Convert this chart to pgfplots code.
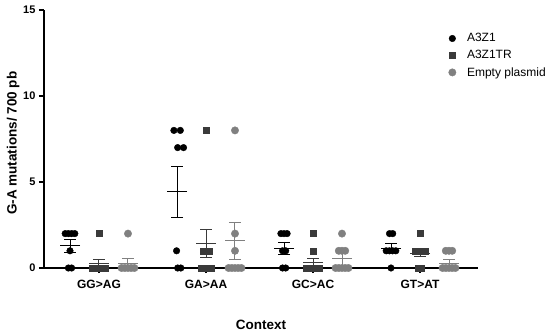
\documentclass[border=0pt]{standalone}
\usepackage{pgfplots}
\pgfplotsset{compat=1.18}
\usepackage{fontspec}
\setmainfont{Liberation Sans}
\definecolor{trgray}{HTML}{3A3A3A}
\definecolor{epgray}{HTML}{808080}
\begin{document}
\begin{tikzpicture}
\path[use as bounding box] (-44pt,-65pt) rectangle (506pt,268pt);
\begin{axis}[
  scale only axis, width=434pt, height=258pt,
  xmin=-0.514, xmax=3.542, ymin=0, ymax=15,
  axis x line=bottom, axis y line=left,
  axis line style={line width=1.3pt,-},
  xtick={0,1,2,3}, xticklabels={GG>AG,GA>AA,GC>AC,GT>AT},
  ytick={0,5,10,15},
  tick align=outside, major tick length=5pt,
  tick style={line width=1.3pt, black},
  xticklabel style={font=\bfseries\fontsize{12}{14}\selectfont, yshift=-4pt},
  yticklabel style={font=\bfseries\fontsize{11}{13}\selectfont},
  /pgf/number format/assume math mode=true,
  xlabel={Context}, ylabel={G-A mutations/ 700 pb},
  xlabel style={font=\bfseries\fontsize{13.5}{15}\selectfont, at={(axis description cs:0.5,-0.221)}, anchor=center},
  ylabel style={font=\bfseries\fontsize{13.5}{15}\selectfont, at={(axis description cs:-0.071,0.484)}, anchor=center},
  clip=false,
  legend style={draw=none, fill=none, at={(rel axis cs:0.925,0.925)}, anchor=north west,
    font=\fontsize{12}{14}\selectfont, row sep=3pt, cells={anchor=west},
    /tikz/every odd column/.append style={column sep=9pt}},
]
% individual points
\addplot[only marks, mark=*, mark size=3.3pt, black] coordinates {
 (-0.316,2) (-0.286,2) (-0.256,2) (-0.226,2) (-0.271,1) (-0.286,0) (-0.256,0)
 (0.700,8) (0.760,8) (0.735,7) (0.790,7) (0.725,1) (0.735,0) (0.765,0)
 (1.700,2) (1.729,2) (1.758,2) (1.715,1) (1.745,1) (1.715,0) (1.745,0)
 (2.715,2) (2.745,2) (2.684,1) (2.714,1) (2.744,1) (2.774,1) (2.729,0)
};
\addlegendentry{A3Z1}
\addplot[only marks, mark=square*, mark size=3pt, trgray, mark options={fill=trgray}] coordinates {
 (0,2) (-0.06,0) (-0.03,0) (0,0) (0.03,0) (0.06,0)
 (1,8) (0.97,1) (1,1) (1.03,1) (0.955,0) (0.985,0) (1.015,0) (1.045,0)
 (2,2) (2,1) (1.94,0) (1.97,0) (2,0) (2.03,0) (2.06,0)
 (3,2) (2.955,1) (2.985,1) (3.015,1) (3.045,1) (2.985,0) (3.015,0)
};
\addlegendentry{A3Z1TR}
\addplot[only marks, mark=*, mark size=3.7pt, epgray, mark options={fill=epgray}] coordinates {
 (0.271,2) (0.211,0) (0.241,0) (0.271,0) (0.301,0) (0.331,0)
 (1.271,8) (1.271,2) (1.271,1) (1.211,0) (1.241,0) (1.271,0) (1.301,0) (1.331,0)
 (2.271,2) (2.241,1) (2.271,1) (2.301,1) (2.211,0) (2.241,0) (2.271,0) (2.301,0) (2.331,0)
 (3.241,1) (3.271,1) (3.301,1) (3.211,0) (3.241,0) (3.271,0) (3.301,0) (3.331,0)
};
\addlegendentry{Empty plasmid}
% means with SEM
\addplot[forget plot, only marks, black, mark=-, mark size=10pt, mark options={line width=1pt},
  error bars/.cd, y dir=both, y explicit,
  error bar style={line width=1pt}, error mark options={rotate=90, mark size=6pt, line width=1pt}]
  coordinates {
 (-0.271,1.29) +- (0,0.36)
 (0.729,4.43) +- (0,1.47)
 (1.729,1.14) +- (0,0.34)
 (2.729,1.14) +- (0,0.26)
};
\addplot[forget plot, only marks, trgray, mark=-, mark size=10pt, mark options={line width=1pt},
  error bars/.cd, y dir=both, y explicit,
  error bar style={line width=1pt}, error mark options={rotate=90, mark size=6pt, line width=1pt}]
  coordinates {
 (0,0.27) +- (0,0.2)
 (1,1.44) +- (0,0.82)
 (2,0.31) +- (0,0.25)
 (3,0.86) +- (0,0.2)
};
\addplot[forget plot, only marks, epgray, mark=-, mark size=10pt, mark options={line width=1pt},
  error bars/.cd, y dir=both, y explicit,
  error bar style={line width=1pt}, error mark options={rotate=90, mark size=6pt, line width=1pt}]
  coordinates {
 (0.271,0.29) +- (0,0.28)
 (1.271,1.57) +- (0,1.1)
 (2.271,0.55) +- (0,0.38)
 (3.271,0.29) +- (0,0.18)
};
\end{axis}
\end{tikzpicture}
\end{document}
